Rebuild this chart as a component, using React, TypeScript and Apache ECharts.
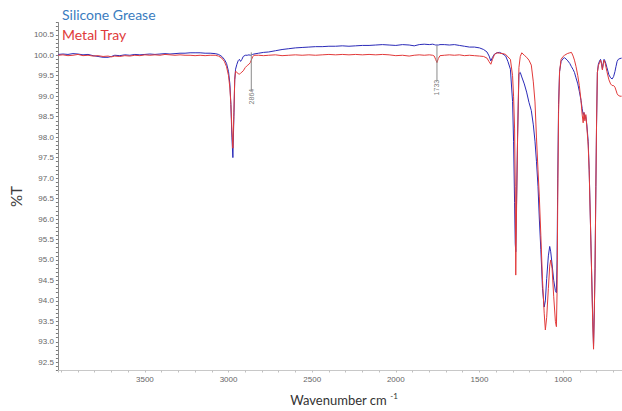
import React, { useEffect, useRef } from 'react';
import * as echarts from 'echarts';

const seriesNames = ['Silicone Grease', 'Metal Tray'];

const wavenumbers = [
  4018, 3990, 3960, 3930, 3900, 3870, 3840, 3810, 3780, 3750, 3720, 3700, 3680, 3650, 3620, 3590,
  3560, 3530, 3500, 3470, 3440, 3410, 3380, 3350, 3320, 3290, 3260, 3230, 3200, 3170, 3140, 3110,
  3080, 3060, 3040, 3025, 3012, 3000, 2992, 2986, 2980, 2974, 2968, 2963, 2958, 2950, 2942, 2935,
  2928, 2920, 2912, 2900, 2888, 2878, 2870, 2864, 2856, 2848, 2820, 2790, 2760, 2720, 2680, 2640,
  2600, 2560, 2520, 2480, 2440, 2400, 2360, 2320, 2280, 2240, 2200, 2160, 2120, 2080, 2040, 2000,
  1960, 1920, 1890, 1860, 1830, 1800, 1780, 1770, 1762, 1754, 1746, 1736, 1710, 1680, 1650, 1620,
  1590, 1560, 1530, 1500, 1475, 1455, 1442, 1432, 1422, 1410, 1395, 1380, 1360, 1343, 1330, 1315,
  1302, 1296, 1290, 1286, 1283, 1279, 1272, 1264, 1256, 1247, 1232, 1218, 1204, 1190, 1178, 1168,
  1159, 1150, 1142, 1133, 1123, 1113, 1106, 1098, 1088, 1080, 1074, 1066, 1056, 1046, 1040, 1036,
  1032, 1027, 1021, 1012, 1000, 991, 975, 960, 950, 940, 932, 923, 912, 903, 893, 886,
  880, 875, 870, 864, 858, 850, 844, 837, 830, 823, 818, 813, 809, 804, 800, 795,
  789, 782, 776, 770, 765, 760, 755, 748, 738, 726, 716, 707, 698, 690, 684, 677,
  670, 660, 650,
];

const siliconeGrease = [
  100.02, 100.03, 100.02, 100.04, 100.03, 100.01, 100.02, 99.99, 99.97, 99.95, 99.95, 99.97, 100.0, 99.99, 100.01, 100.0,
  100.02, 100.01, 100.02, 100.03, 100.02, 100.03, 100.04, 100.03, 100.04, 100.05, 100.05, 100.06, 100.06, 100.06, 100.05, 100.05,
  100.04, 100.02, 99.97, 99.9, 99.8, 99.6, 99.3, 98.8, 98.0, 97.5, 98.5, 99.4, 99.66, 99.78, 99.87, 99.9,
  99.85, 99.9, 99.97, 100.0, 100.0, 100.01, 100.0, 100.01, 100.02, 100.03, 100.05, 100.07, 100.08, 100.11, 100.14, 100.16,
  100.18, 100.19, 100.2, 100.21, 100.21, 100.22, 100.22, 100.23, 100.22, 100.23, 100.24, 100.24, 100.25, 100.26, 100.25, 100.24,
  100.26, 100.25, 100.23, 100.26, 100.27, 100.26, 100.27, 100.26, 100.25, 100.25, 100.25, 100.26, 100.26, 100.25, 100.26, 100.24,
  100.22, 100.2, 100.2, 100.18, 100.14, 100.08, 99.98, 99.86, 99.95, 100.03, 100.06, 100.07, 100.03, 99.98, 99.85, 99.66,
  98.87, 97.9, 96.4, 95.4, 95.2, 96.2, 98.0, 99.55, 99.58, 99.47, 99.3, 99.1, 98.85, 98.65, 98.3, 97.9,
  97.4, 96.8, 96.0, 95.25, 94.3, 93.85, 94.0, 94.55, 95.1, 95.33, 95.2, 94.9, 94.5, 94.25, 94.2, 95.0,
  97.0, 98.8, 99.6, 99.85, 99.92, 99.94, 99.88, 99.8, 99.72, 99.65, 99.58, 99.45, 99.3, 99.12, 98.9, 98.7,
  98.55, 98.6, 98.45, 98.5, 98.3, 97.9, 97.2, 96.0, 94.8, 93.6, 92.9, 93.8, 94.8, 96.8, 98.3, 99.58,
  99.78, 99.86, 99.9, 99.8, 99.66, 99.8, 99.9, 99.85, 99.7, 99.52, 99.45, 99.42, 99.48, 99.6, 99.72, 99.85,
  99.9, 99.92, 99.93,
];

const metalTray = [
  100.0, 100.01, 99.99, 100.0, 100.02, 99.99, 100.0, 99.98, 99.99, 99.97, 99.98, 99.96, 99.98, 99.97, 99.99, 99.98,
  100.0, 99.99, 100.01, 100.0, 100.01, 100.0, 100.02, 100.01, 100.0, 100.01, 100.0, 100.0, 99.99, 100.0, 99.99, 100.0,
  100.0, 99.98, 99.93, 99.85, 99.72, 99.5, 99.2, 98.8, 98.2, 97.73, 98.6, 99.4, 99.61, 99.58, 99.55, 99.54,
  99.56, 99.59, 99.62, 99.7, 99.75, 99.78, 99.82, 99.88, 99.96, 100.0, 100.0, 99.99, 100.0, 100.01, 99.99, 100.0,
  100.01, 100.0, 100.01, 100.0, 100.01, 100.02, 100.01, 100.02, 100.01, 100.02, 100.01, 100.02, 100.01, 100.02, 100.01, 99.99,
  100.0, 99.98, 100.0, 100.01, 100.0, 100.01, 100.0, 99.98, 99.9, 99.82, 99.92, 99.99, 100.0, 100.01, 100.0, 100.01,
  99.99, 100.0, 99.99, 99.98, 99.97, 99.93, 99.84, 99.78, 99.9, 100.02, 100.06, 100.05, 100.04, 100.02, 99.96, 99.9,
  99.5, 99.0, 98.2, 96.8, 94.63, 96.0, 98.0, 99.7, 99.97, 100.06, 100.0, 99.95, 99.88, 99.76, 99.35, 98.86,
  97.98, 97.2, 96.54, 95.6, 94.5, 93.7, 93.29, 93.6, 94.3, 94.85, 95.0, 94.8, 94.1, 93.5, 93.37, 94.2,
  96.5, 98.6, 99.6, 99.9, 99.97, 100.0, 100.04, 100.06, 100.07, 99.98, 99.88, 99.73, 99.5, 99.26, 98.9, 98.55,
  98.35, 98.6, 98.4, 98.55, 98.25, 97.8, 97.18, 96.0, 94.78, 93.5, 92.82, 93.8, 94.78, 96.8, 98.3, 99.58,
  99.75, 99.82, 99.88, 99.78, 99.64, 99.78, 99.88, 99.8, 99.6, 99.4, 99.3, 99.26, 99.26, 99.22, 99.15, 99.06,
  99.02, 99.0, 99.0,
];

const annotationWave = [2864, 1754];
const annotationText = ['2864', '1733'];
const annotationTop = [100.07, 100.24];
const annotationBottom = [99.13, 99.37];
const annotationLabelAt = [98.99, 99.21];

const seriesColors = ['#2a2ab8', '#e23a3a'];
const legendColors = ['#3a7cc0', '#e03a3a'];

export default function App() {
  const ref = useRef<HTMLDivElement>(null);
  useEffect(() => {
    if (!ref.current) return;
    const chart = echarts.init(ref.current, undefined, { renderer: 'svg' });
    const specSeries = [siliconeGrease, metalTray].map((vals, s) => ({
      name: seriesNames[s],
      type: 'line',
      data: wavenumbers.map((w, i) => [w, vals[i]]),
      showSymbol: false,
      symbol: 'none',
      lineStyle: { color: seriesColors[s], width: 1 },
      itemStyle: { color: seriesColors[s] },
      z: 3 + s,
      silent: true,
    }));
    const annLines = annotationWave.map((w, i) => ({
      type: 'line',
      data: [[w, annotationTop[i]], [w, annotationBottom[i]]],
      symbol: 'none',
      lineStyle: { color: '#8a8a8a', width: 1 },
      z: 6,
      silent: true,
    }));
    const annLabels = {
      type: 'scatter',
      symbolSize: 0,
      data: annotationWave.map((w, i) => ({ value: [w, annotationLabelAt[i]], name: annotationText[i] })),
      label: {
        show: true,
        position: 'inside',
        formatter: '{b}',
        rotate: 90,
        fontSize: 7,
        color: '#555',
        fontFamily: 'Liberation Sans',
      },
      z: 7,
      silent: true,
    };
    const isHalf = (v: number) => Math.abs(v * 2 - Math.round(v * 2)) < 1e-6;
    chart.setOption({
      animation: false,
      backgroundColor: '#ffffff',
      grid: { left: 53, right: 0, top: 22.5, bottom: 34.9, containLabel: false },
      xAxis: {
        type: 'value',
        inverse: true,
        min: 600,
        max: 4020,
        interval: 100,
        name: 'Wavenumber cm {sup|-1}',
        nameLocation: 'middle',
        nameGap: 21,
        nameTextStyle: {
          fontSize: 13,
          color: '#333',
          fontFamily: 'Lato',
          rich: { sup: { fontSize: 8, color: '#333', fontFamily: 'Lato', verticalAlign: 'top', padding: [0, 0, 8, 0] } },
        },
        axisLine: { show: true, lineStyle: { color: '#c8c8c8', width: 1 } },
        axisTick: { show: true, length: 2, lineStyle: { color: '#c0c0c0' } },
        splitLine: { show: false },
        axisLabel: {
          fontSize: 8,
          color: '#666',
          fontFamily: 'Liberation Sans',
          margin: 5,
          formatter: (v: number) => (Math.round(v) % 500 === 0 && v < 4000 ? String(Math.round(v)) : ''),
        },
      },
      yAxis: {
        type: 'value',
        min: 92.3,
        max: 100.8,
        interval: 0.1,
        name: '%T',
        nameLocation: 'middle',
        nameGap: 26,
        nameRotate: 90,
        nameTextStyle: { fontSize: 15, color: '#404040', fontFamily: 'Lato' },
        axisLine: { show: true, lineStyle: { color: '#8a8a8a', width: 1 } },
        axisTick: { show: true, length: 2, lineStyle: { color: '#777' } },
        splitLine: { show: false },
        axisLabel: {
          fontSize: 8,
          color: '#666',
          fontFamily: 'Liberation Sans',
          margin: 4,
          showMinLabel: true,
          showMaxLabel: true,
          formatter: (v: number) => (isHalf(v) ? v.toFixed(1) : ''),
        },
      },
      graphic: [
        {
          type: 'text',
          left: 62,
          top: 7,
          style: { text: seriesNames[0], fill: legendColors[0], font: '14px Lato' },
          z: 10,
        },
        {
          type: 'text',
          left: 62,
          top: 27,
          style: { text: seriesNames[1], fill: legendColors[1], font: '14px Lato' },
          z: 10,
        },
      ],
      series: [...specSeries, ...annLines, annLabels],
    });
    return () => chart.dispose();
  }, []);
  return (
    <div style={{ position: 'fixed', left: 0, top: 0, width: 622, height: 411, overflow: 'hidden', background: '#fff' }}>
      <div ref={ref} style={{ width: 633, height: 411 }} />
    </div>
  );
}
